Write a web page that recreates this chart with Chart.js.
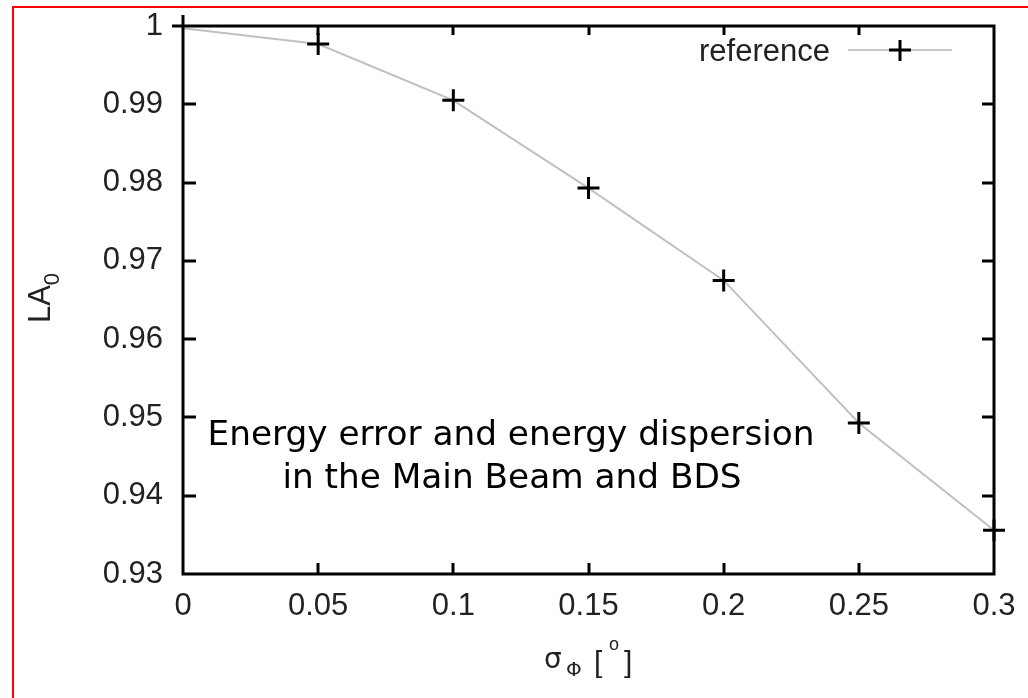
<!DOCTYPE html>
<html>
<head>
<meta charset="utf-8">
<script src="https://cdn.jsdelivr.net/npm/chart.js@4/dist/chart.umd.min.js"></script>
<style>
  html, body { margin: 0; padding: 0; background: #fff; }
  #wrap { width: 1028px; height: 698px; position: relative; }
</style>
</head>
<body>
<div id="wrap"><canvas id="c" width="1028" height="698"></canvas></div>
<script>
// ---- data ----
const sigmaValues = [0, 0.05, 0.1, 0.15, 0.2, 0.25, 0.3];
const laValues = [0.9997, 0.9977, 0.9905, 0.9793, 0.9675, 0.9493, 0.9356];
const markerShown = [false, true, true, true, true, true, true];
const xTicks = [0, 0.05, 0.1, 0.15, 0.2, 0.25, 0.3];
const yTicks = [0.93, 0.94, 0.95, 0.96, 0.97, 0.98, 0.99, 1];
const seriesName = 'reference';
const noteLines = ['Energy error and energy dispersion', 'in the Main Beam and BDS'];

const points = sigmaValues.map((x, i) => ({ x: x, y: laValues[i] }));
const fmt = v => String(+(+v).toFixed(4));

const TICKFONT = { family: "'Liberation Sans', Arial, sans-serif", size: 31 };

const framePlugin = {
  id: 'frame',
  afterDraw(chart) {
    const { ctx, chartArea: a, scales } = chart;
    const xs = scales.x, ys = scales.y;
    ctx.save();
    // red page border (left + top)
    ctx.strokeStyle = '#ff0000';
    ctx.lineWidth = 2;
    ctx.beginPath();
    ctx.moveTo(13, 698); ctx.lineTo(13, 7); ctx.lineTo(1028, 7);
    ctx.stroke();

    // frame
    ctx.strokeStyle = '#000';
    ctx.lineWidth = 3;
    ctx.beginPath();
    ctx.moveTo(a.left, 15); ctx.lineTo(a.left, a.bottom); ctx.lineTo(a.right, a.bottom);
    ctx.lineTo(a.right, a.top); ctx.lineTo(a.left - 11, a.top);
    ctx.stroke();

    // inward ticks
    ctx.lineWidth = 3;
    ctx.beginPath();
    xTicks.forEach(v => {
      const px = Math.round(xs.getPixelForValue(v));
      if (px > a.left + 2 && px < a.right - 2) {
        ctx.moveTo(px, a.bottom); ctx.lineTo(px, a.bottom - 11);
        ctx.moveTo(px, a.top); ctx.lineTo(px, a.top + 9);
      }
    });
    yTicks.forEach(v => {
      const py = Math.round(ys.getPixelForValue(v));
      if (py > a.top + 2 && py < a.bottom - 2) {
        ctx.moveTo(a.left, py); ctx.lineTo(a.left + 13, py);
        ctx.moveTo(a.right, py); ctx.lineTo(a.right - 12, py);
      }
    });
    ctx.stroke();

    // legend
    const ds = chart.data.datasets[0];
    ctx.fillStyle = '#222';
    ctx.font = "31px 'Liberation Sans', Arial, sans-serif";
    ctx.textAlign = 'right';
    ctx.textBaseline = 'alphabetic';
    ctx.fillText(ds.label, 830, 61);
    ctx.strokeStyle = '#c8c8c8';
    ctx.lineWidth = 2;
    ctx.beginPath(); ctx.moveTo(848, 50); ctx.lineTo(952, 50); ctx.stroke();
    ctx.strokeStyle = '#000';
    ctx.lineWidth = 3;
    ctx.beginPath();
    ctx.moveTo(889, 50); ctx.lineTo(911, 50);
    ctx.moveTo(900, 40); ctx.lineTo(900, 61);
    ctx.stroke();

    // axis titles
    ctx.fillStyle = '#222';
    // y title: LA with subscript 0, rotated
    ctx.save();
    ctx.translate(50, 298);
    ctx.rotate(-Math.PI / 2);
    ctx.textAlign = 'left';
    ctx.font = "31px 'Liberation Sans', Arial, sans-serif";
    const wLA = ctx.measureText('LA').width;
    ctx.font = "22px 'Liberation Sans', Arial, sans-serif";
    const w0 = ctx.measureText('0').width;
    const sx = -(wLA + w0) / 2;
    ctx.font = "31px 'Liberation Sans', Arial, sans-serif";
    ctx.fillText('LA', sx, 0);
    ctx.font = "22px 'Liberation Sans', Arial, sans-serif";
    ctx.fillText('0', sx + wLA, 9);
    ctx.restore();

    // x title: sigma_Phi [°]
    ctx.textAlign = 'left';
    ctx.font = "28px 'DejaVu Sans', sans-serif";
    ctx.fillText('σ', 544, 668);
    ctx.font = "20px 'DejaVu Sans', sans-serif";
    ctx.fillText('Φ', 566, 676);
    ctx.font = "30px 'Liberation Sans', Arial, sans-serif";
    ctx.fillText('[', 594, 672);
    ctx.font = "18px 'Liberation Sans', Arial, sans-serif";
    ctx.fillText('o', 609, 650);
    ctx.font = "30px 'Liberation Sans', Arial, sans-serif";
    ctx.fillText(']', 624, 672);

    // annotation
    ctx.fillStyle = '#000';
    ctx.textAlign = 'center';
    const fam = "'Comic Sans MS', 'DejaVu Sans', sans-serif";
    let size = 30;
    ctx.font = size + 'px ' + fam;
    const w = ctx.measureText(noteLines[0]).width;
    size = size * 607 / w;
    ctx.font = size.toFixed(1) + 'px ' + fam;
    ctx.fillText(noteLines[0], 511, 445);
    ctx.fillText(noteLines[1], 512, 488);
    ctx.restore();
  }
};

new Chart(document.getElementById('c'), {
  type: 'scatter',
  data: {
    datasets: [{
      label: seriesName,
      data: points,
      showLine: true,
      borderColor: '#c0c0c0',
      borderWidth: 2,
      tension: 0,
      pointStyle: 'cross',
      pointRadius: markerShown.map(s => s ? 11 : 0),
      pointBorderColor: '#000',
      pointBorderWidth: 3,
      pointHoverRadius: 11,
      clip: false
    }]
  },
  options: {
    responsive: false,
    animation: false,
    devicePixelRatio: 1,
    layout: { padding: { left: 0, top: 26, right: 34, bottom: 0 } },
    plugins: { legend: { display: false }, tooltip: { enabled: false } },
    scales: {
      x: {
        type: 'linear', min: 0, max: 0.3,
        afterBuildTicks: s => { s.ticks = xTicks.map(v => ({ value: v })); },
        afterFit: s => { s.height = 124; s.paddingLeft = 0; s.paddingRight = 0; },
        grid: { display: false, drawTicks: false },
        border: { display: false },
        ticks: { callback: fmt, font: TICKFONT, color: '#222', padding: 14, maxRotation: 0, autoSkip: false }
      },
      y: {
        type: 'linear', min: 0.93, max: 1,
        afterBuildTicks: s => { s.ticks = yTicks.map(v => ({ value: v })); },
        afterFit: s => { s.width = 183; s.paddingTop = 0; s.paddingBottom = 0; },
        grid: { display: false, drawTicks: false },
        border: { display: false },
        ticks: { callback: fmt, font: TICKFONT, color: '#222', padding: 20, autoSkip: false }
      }
    }
  },
  plugins: [framePlugin]
});
</script>
</body>
</html>
